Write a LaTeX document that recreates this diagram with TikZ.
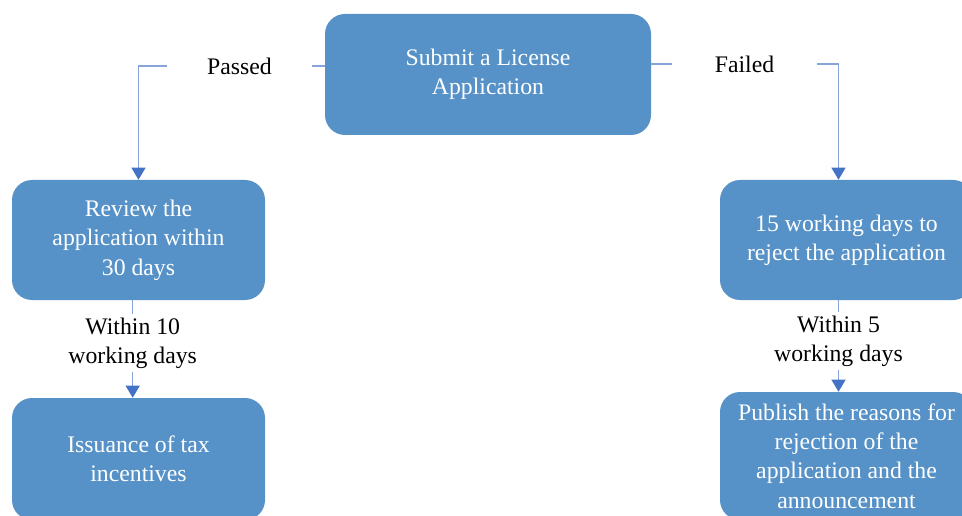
\documentclass[tikz,border=0pt]{standalone}
\usepackage{fontspec}
\setmainfont{Liberation Serif}
\usetikzlibrary{arrows.meta}
\definecolor{boxblue}{RGB}{86,146,199}
\definecolor{lineblue}{RGB}{135,165,218}
\definecolor{tipblue}{RGB}{68,114,196}
\begin{document}
\begin{tikzpicture}[x=0.75pt,y=-0.75pt,
    stagebox/.style={rounded corners=15pt,fill=boxblue,text=white,align=center,
      font=\fontsize{17.8}{22}\selectfont,minimum width=189.75pt,
      minimum height=90pt,inner sep=2pt},
    flowlabel/.style={fill=white,align=center,inner sep=2.5pt,
      font=\fontsize{17.8}{22}\selectfont},
    link/.style={draw=lineblue,line width=0.8pt},
    flowarrow/.style={-{Triangle[length=9pt,width=10.5pt,color=tipblue]}}]

  \useasboundingbox (0,0) rectangle (962,516);
  \clip (0,0) rectangle (962,516);

  % boxes
  \node [stagebox,minimum width=244.5pt,minimum height=90.75pt]
    (submit) at (488,74.5) {Submit a License\\Application};
  \node [stagebox] (review) at (138.5,240)
    {Review the\\application within\\30 days};
  \node [stagebox,minimum height=91.5pt] (issue) at (138.5,459)
    {Issuance of tax\\incentives};
  \node [stagebox] (reject) at (846.5,240)
    {15 working days to\\reject the application};
  \node [stagebox,minimum height=96pt] (publish) at (846.5,456)
    {Publish the reasons for\\rejection of the\\application and the\\announcement};

  % labels
  \node [flowlabel,minimum width=108.75pt] (passed) at (239.5,66) {Passed};
  \node [flowlabel,minimum width=108.75pt] (failed) at (744.5,64) {Failed};
  \node [flowlabel] (within10) at (132.7,343) {Within 10\\working days};
  \node [flowlabel] (within5) at (838.5,341) {Within 5\\working days};

  % connectors
  \draw [link] (submit.west |- passed) -- (passed.east);
  \draw [link,flowarrow] (passed.west) -| (review.north);
  \draw [link] (submit.east |- failed) -- (failed.west);
  \draw [link,flowarrow] (failed.east) -| (within5 |- reject.north);

  \draw [link] (within10 |- review.south) -- (within10.north);
  \draw [link,flowarrow] (within10.south) -- (within10 |- issue.north);
  \draw [link] (within5 |- reject.south) -- (within5.north);
  \draw [link,flowarrow] (within5.south) -- (within5 |- publish.north);
\end{tikzpicture}
\end{document}
